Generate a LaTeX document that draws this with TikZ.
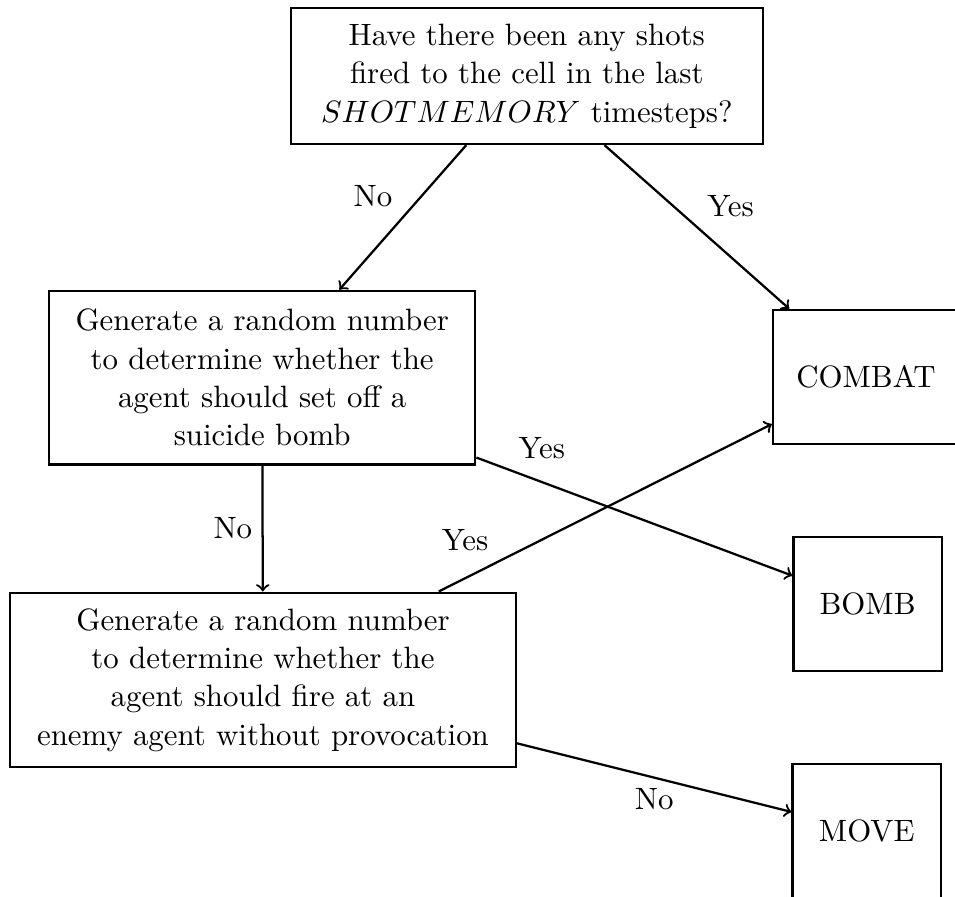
\documentclass[tikz,border=0pt]{standalone}
\begin{document}
\begin{tikzpicture}[font=\fontsize{10.95}{13.6}\selectfont, thick,
        decision/.style={draw, align=center, inner ysep=6.5pt},
        outcome/.style={draw, minimum height=1.67cm, minimum width=1.85cm, inner xsep=0.29cm}]
            \useasboundingbox (0, 0) rectangle (11.91, -11.18);
            \node[decision, text width=5.65cm, inner ysep=5.6pt] (start) at (6.57, -0.95) {Have there been any shots\\ fired to the cell in the last\\ $SHOTMEMORY$ timesteps?};
            \node[decision, text width=5.08cm] (rbomb) at (3.27, -4.71) {Generate a random number\\ to determine whether the\\ agent should set off a\\ suicide bomb};
            \node[decision, text width=6.07cm, inner ysep=5.6pt] (rfire) at (3.28, -8.48) {Generate a random number\\ to determine whether the\\ agent should fire at an\\ enemy agent without provocation};
            \node[outcome] (combat) at (10.80, -4.70) {COMBAT};
            \node[outcome] (bomb) at (10.82, -7.53) {BOMB};
            \node[outcome] (move) at (10.81, -10.36) {MOVE};
            \draw[->] (start) to node[above left] {No} (rbomb);
            \draw[->] (start) to node[above right] {Yes} (combat);
            \draw[->] (rbomb) to node[pos=0.1, above right] {Yes} (bomb);
            \draw[->] (rbomb) to node[left] {No} (rfire);
            \draw[->] (rfire) to node[pos=0.18, above left] {Yes} (combat);
            \draw[->] (rfire) to node[below] {No} (move);
        \end{tikzpicture}
\end{document}
